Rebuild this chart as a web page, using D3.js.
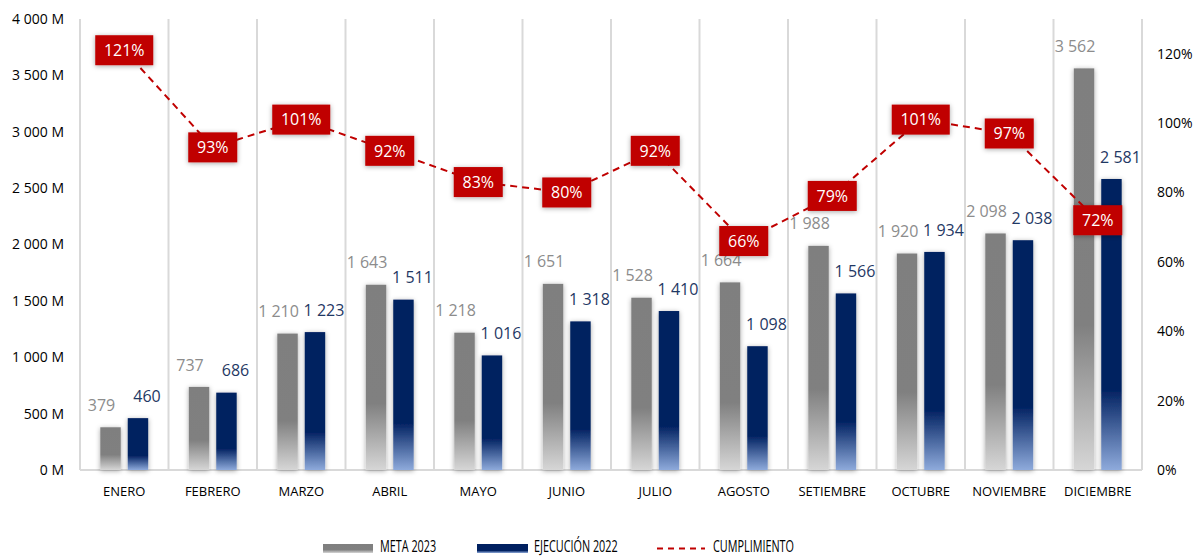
<!DOCTYPE html>
<html>
<head>
<meta charset="utf-8">
<script src="https://cdn.jsdelivr.net/npm/d3@7"></script>
<style>
  body { margin: 0; background: #fff; }
  text { font-family: "Open Sans", "Noto Sans", sans-serif; }
</style>
</head>
<body>
<div class="main-graph"></div>
<script>
// data
var months = ["ENERO","FEBRERO","MARZO","ABRIL","MAYO","JUNIO","JULIO","AGOSTO","SETIEMBRE","OCTUBRE","NOVIEMBRE","DICIEMBRE"];
var meta2023 = [379, 737, 1210, 1643, 1218, 1651, 1528, 1664, 1988, 1920, 2098, 3562];
var ejec2022 = [460, 686, 1223, 1511, 1016, 1318, 1410, 1098, 1566, 1934, 2038, 2581];
var cumplimiento = [1.21, 0.93, 1.01, 0.92, 0.83, 0.80, 0.92, 0.66, 0.79, 1.01, 0.97, 0.72];
var leftTicks = [0, 500, 1000, 1500, 2000, 2500, 3000, 3500, 4000];
var rightTicks = [0, 0.2, 0.4, 0.6, 0.8, 1.0, 1.2];
var seriesNames = ["META 2023", "EJECUCIÓN 2022", "CUMPLIMIENTO"];

var W = 1194, H = 558;
var margin = {top: 19, right: 52, bottom: 88, left: 80},
    width = W - margin.left - margin.right,
    height = H - margin.top - margin.bottom;

var svg = d3.select(".main-graph")
            .append("svg")
            .attr("width", W)
            .attr("height", H);

var defs = svg.append("defs");

// bar gradients
var gGray = defs.append("linearGradient").attr("id", "gradGray")
    .attr("x1", "0%").attr("x2", "0%").attr("y1", "0%").attr("y2", "100%");
gGray.append("stop").attr("offset", "0%").style("stop-color", "#7f7f7f");
gGray.append("stop").attr("offset", "64%").style("stop-color", "#808080");
gGray.append("stop").attr("offset", "100%").style("stop-color", "#d6d6d6");

var gBlue = defs.append("linearGradient").attr("id", "gradBlue")
    .attr("x1", "0%").attr("x2", "0%").attr("y1", "0%").attr("y2", "100%");
gBlue.append("stop").attr("offset", "0%").style("stop-color", "#002060");
gBlue.append("stop").attr("offset", "72%").style("stop-color", "#002060");
gBlue.append("stop").attr("offset", "100%").style("stop-color", "#8eaadb");

var shadow = defs.append("filter").attr("id", "shadow")
    .attr("x", "-50%").attr("y", "-20%").attr("width", "200%").attr("height", "140%");
shadow.append("feDropShadow").attr("dx", 0).attr("dy", 1)
    .attr("stdDeviation", 2.5).attr("flood-color", "#000").attr("flood-opacity", 0.35);

var g = svg.append("g")
           .attr("transform", "translate(" + margin.left + "," + margin.top + ")");

// scales
var x0 = d3.scaleBand().domain(months).range([0, width]).padding(0);
var x1 = d3.scaleBand().domain(["meta", "ejec"]).range([0, x0.bandwidth()])
           .paddingInner(0.255).paddingOuter(0.74);
var y = d3.scaleLinear().domain([0, 4000]).range([height, 0]);
var y2 = d3.scaleLinear().domain([0, 1.3]).range([height, 0]);

// vertical separators
var seps = months.map(function(m){ return x0(m); }).concat([width]);
g.selectAll(".sep").data(seps).enter().append("line")
    .attr("x1", function(d){ return d; }).attr("x2", function(d){ return d; })
    .attr("y1", 0).attr("y2", height)
    .attr("stroke", "#d9d9d9").attr("stroke-width", 2);

g.append("line")
    .attr("x1", 0).attr("x2", width).attr("y1", height).attr("y2", height)
    .attr("stroke", "#d9d9d9").attr("stroke-width", 2);

// left axis
var axL = g.append("g")
   .call(d3.axisLeft(y).tickValues(leftTicks).tickSize(0).tickPadding(16)
           .tickFormat(function(d){ return d3.format(",")(d).replace(",", " ") + " M"; }));
axL.select(".domain").remove();
axL.selectAll("text").style("font-size", "14px").attr("fill", "#000");

// right axis
var axR = g.append("g").attr("transform", "translate(" + width + ",0)")
   .call(d3.axisRight(y2).tickValues(rightTicks).tickSize(0).tickPadding(15)
           .tickFormat(d3.format(".0%")));
axR.select(".domain").remove();
axR.selectAll("text").style("font-size", "14px").attr("fill", "#000");

// bottom axis
var axB = g.append("g").attr("transform", "translate(0," + height + ")")
   .call(d3.axisBottom(x0).tickSize(0).tickPadding(17));
axB.select(".domain").remove();
axB.selectAll("text").style("font-size", "13px").attr("fill", "#000");

// bars
var rows = months.map(function(m, i){
    return {month: m, meta: meta2023[i], ejec: ejec2022[i], pct: cumplimiento[i]};
});

var grp = g.selectAll(".grp").data(rows).enter().append("g")
    .attr("transform", function(d){ return "translate(" + x0(d.month) + ",0)"; });

grp.append("rect")
    .attr("x", x1("meta")).attr("width", x1.bandwidth())
    .attr("y", function(d){ return y(d.meta); })
    .attr("height", function(d){ return height - y(d.meta); })
    .attr("fill", "url(#gradGray)")
    .attr("filter", "url(#shadow)");

grp.append("rect")
    .attr("x", x1("ejec")).attr("width", x1.bandwidth())
    .attr("y", function(d){ return y(d.ejec); })
    .attr("height", function(d){ return height - y(d.ejec); })
    .attr("fill", "url(#gradBlue)")
    .attr("filter", "url(#shadow)");

var num = function(v){ return d3.format(",")(v).replace(",", " "); };

grp.append("text")
    .attr("x", x1("meta") + x1.bandwidth() / 2 - 9)
    .attr("y", function(d){ return y(d.meta) - 22; })
    .attr("dy", "0.35em").attr("text-anchor", "middle")
    .style("font-size", "16px").attr("fill", "#8c8c8c")
    .text(function(d){ return num(d.meta); });

grp.append("text")
    .attr("x", x1("ejec") + x1.bandwidth() / 2 + 9)
    .attr("y", function(d){ return y(d.ejec) - 22; })
    .attr("dy", "0.35em").attr("text-anchor", "middle")
    .style("font-size", "16px").attr("fill", "#1f3864")
    .text(function(d){ return num(d.ejec); });

// cumplimiento line
var line = d3.line()
    .x(function(d){ return x0(d.month) + x0.bandwidth() / 2; })
    .y(function(d){ return y2(d.pct); });

g.append("path")
    .attr("d", line(rows))
    .attr("fill", "none")
    .attr("stroke", "#c00000")
    .attr("stroke-width", 2)
    .attr("stroke-dasharray", "7,5");

var lbl = g.selectAll(".pct").data(rows).enter().append("g")
    .attr("transform", function(d){
        return "translate(" + (x0(d.month) + x0.bandwidth() / 2) + "," + y2(d.pct) + ")";
    });
lbl.append("rect")
    .attr("x", function(d){ return d.pct >= 1 ? -29 : -24.5; })
    .attr("width", function(d){ return d.pct >= 1 ? 58 : 49; })
    .attr("y", -15).attr("height", 30)
    .attr("fill", "#c00000")
    .attr("filter", "url(#shadow)");
lbl.append("text")
    .attr("text-anchor", "middle").attr("dy", "0.36em")
    .style("font-size", "16px").attr("fill", "#fff")
    .text(function(d){ return d3.format(".0%")(d.pct); });

// legend (condensed text like the original)
var leg = svg.append("g").attr("transform", "translate(0,547)");
var legText = function(x, t){
    leg.append("text").attr("transform", "translate(" + x + ",0) scale(0.7,1)")
       .attr("dy", "0.35em").style("font-size", "15.5px").text(t);
};
leg.append("rect").attr("x", 323).attr("y", -3).attr("width", 50).attr("height", 9)
   .attr("fill", "url(#gradGray)");
legText(380, seriesNames[0]);
leg.append("rect").attr("x", 477).attr("y", -3).attr("width", 51).attr("height", 9)
   .attr("fill", "url(#gradBlue)");
legText(534, seriesNames[1]);
leg.append("line").attr("x1", 657).attr("x2", 705).attr("y1", 1.5).attr("y2", 1.5)
   .attr("stroke", "#c00000").attr("stroke-width", 2).attr("stroke-dasharray", "6,5");
legText(713, seriesNames[2]);
</script>
</body>
</html>
